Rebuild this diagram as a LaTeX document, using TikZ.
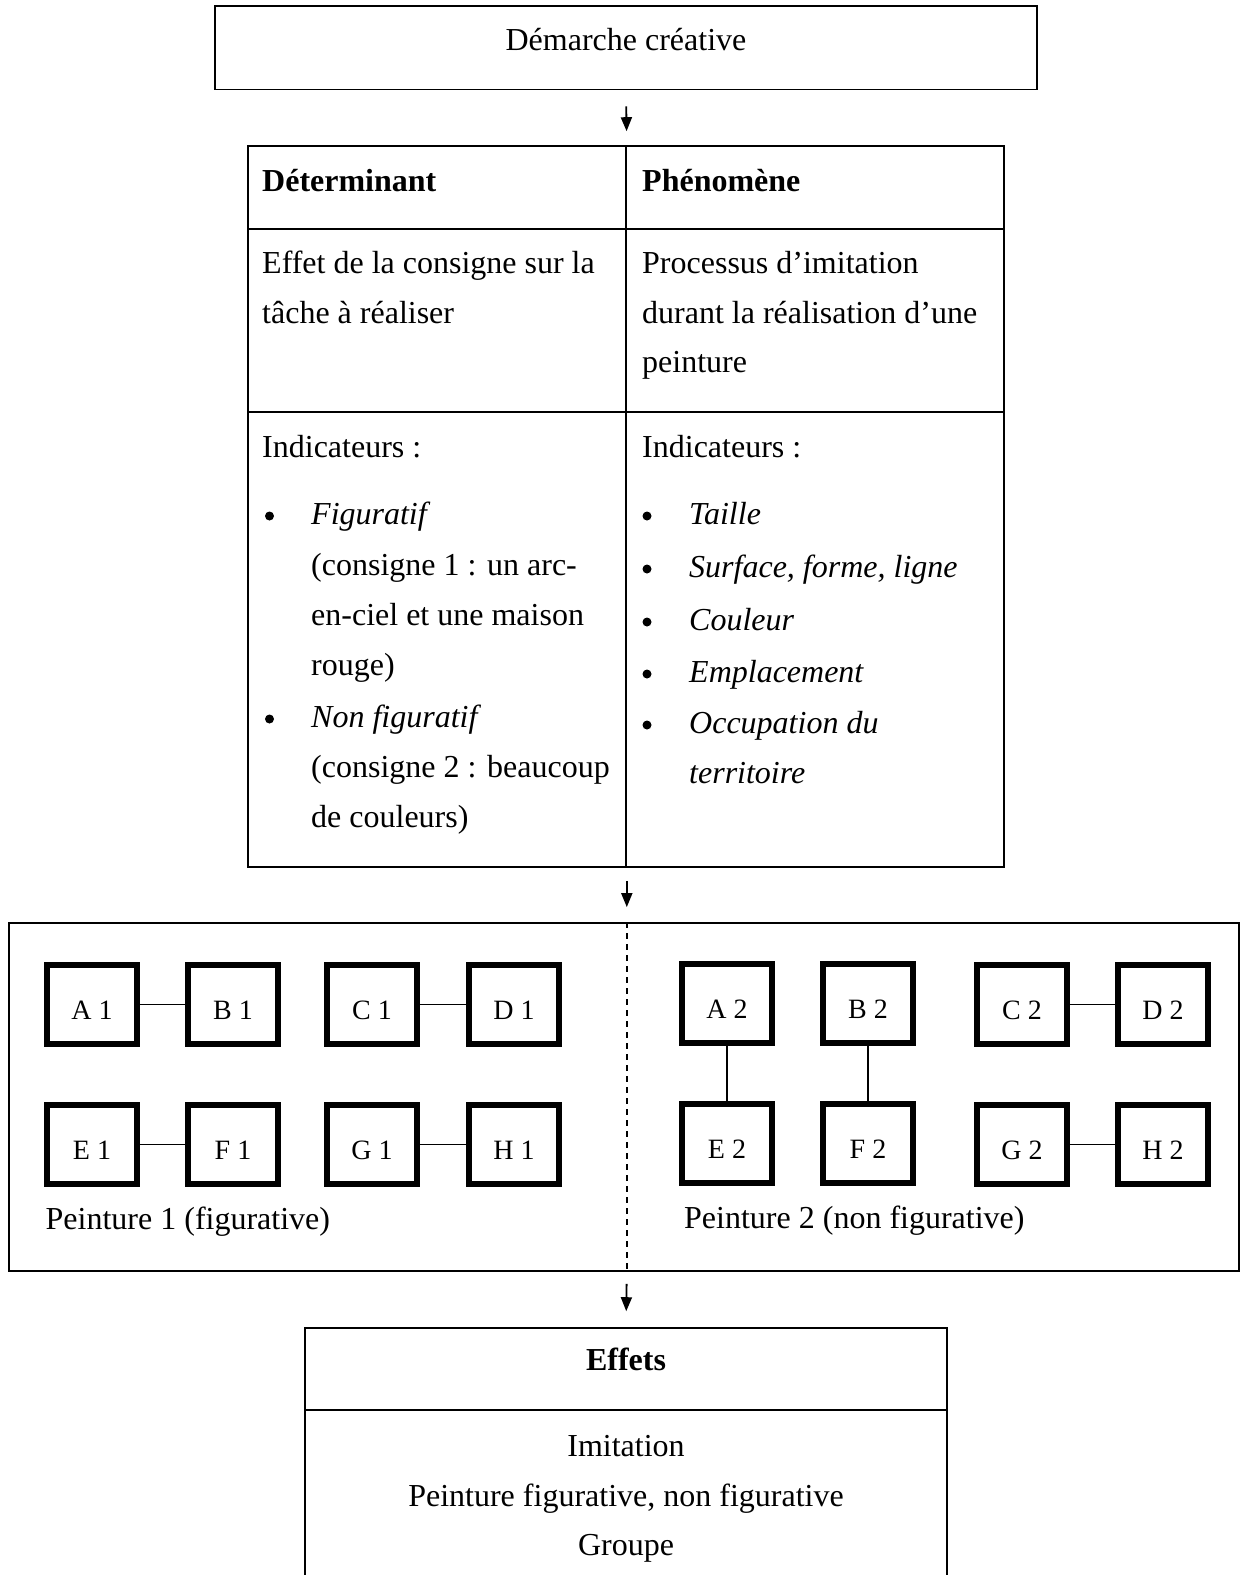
\documentclass[tikz,border=0pt]{standalone}
\usepackage{fontspec}
\setmainfont{Liberation Serif}
\usetikzlibrary{arrows.meta}
\begin{document}
\begin{tikzpicture}[x=1pt,y=-1pt,
  frame/.style={draw, line width=1.6pt, inner sep=0pt},
  txt/.style={anchor=base west, inner sep=0pt, font=\fontsize{32}{38}\selectfont},
  ctxt/.style={anchor=base, inner sep=0pt, font=\fontsize{32}{38}\selectfont},
  itxt/.style={txt, font=\fontsize{32}{38}\selectfont\itshape},
  btxt/.style={txt, font=\fontsize{32}{38}\selectfont\bfseries},
  bul/.style={circle, fill, inner sep=0pt, minimum size=9pt},
  sq/.style={draw, line width=6pt, minimum width=90pt, minimum height=79pt, inner sep=0pt,
    font=\fontsize{28}{30}\selectfont, text height=30pt, text depth=0pt},
  link/.style={line width=1.3pt},
  arr/.style={line width=1.8pt, -{Triangle[length=14pt,width=11pt]}}
]
\useasboundingbox (0,0) rectangle (1242,1575);

% top box
\node[frame, minimum width=821.6pt, minimum height=83.5pt] (top) at (626,47.75) {};
\node[ctxt] (toptxt) at (626,50) {Démarche créative};

% table
\node[frame, minimum width=378pt, minimum height=83pt] (c11) at (437,187.5) {};
\node[frame, minimum width=378pt, minimum height=83pt] (c12) at (815,187.5) {};
\node[frame, minimum width=378pt, minimum height=183pt] (c21) at (437,320.5) {};
\node[frame, minimum width=378pt, minimum height=183pt] (c22) at (815,320.5) {};
\node[frame, minimum width=378pt, minimum height=455pt] (c31) at (437,639.5) {};
\node[frame, minimum width=378pt, minimum height=455pt] (c32) at (815,639.5) {};

\node[btxt] (h1) at (262,191) {Déterminant};
\node[btxt] (h2) at (642,191) {Phénomène};

\node[txt] (l1) at (262,273) {Effet de la consigne sur la};
\node[txt] (l2) at (262,323) {tâche à réaliser};
\node[txt] (r1) at (642,273) {Processus d’imitation};
\node[txt] (r2) at (642,323) {durant la réalisation d’une};
\node[txt] (r3) at (642,372) {peinture};

\node[txt] (li) at (262,457) {Indicateurs :};
\node[bul] (lb1) at (269.5,516) {};
\node[itxt] (lt1) at (311,524) {Figuratif};
\node[txt] (lt2) at (311,575) {(consigne 1 : un arc-};
\node[txt] (lt3) at (311,625) {en-ciel et une maison};
\node[txt] (lt4) at (311,675) {rouge)};
\node[bul] (lb2) at (269.5,719) {};
\node[itxt] (lt5) at (311,727) {Non figuratif};
\node[txt] (lt6) at (311,777) {(consigne 2 : beaucoup};
\node[txt] (lt7) at (311,827) {de couleurs)};

\node[txt] (ri) at (642,457) {Indicateurs :};
\node[bul] (rb1) at (647,516) {};
\node[itxt] (rt1) at (689,524) {Taille};
\node[bul] (rb2) at (647,569) {};
\node[itxt] (rt2) at (689,577) {Surface, forme, ligne};
\node[bul] (rb3) at (647,622) {};
\node[itxt] (rt3) at (689,630) {Couleur};
\node[bul] (rb4) at (647,674) {};
\node[itxt] (rt4) at (689,682) {Emplacement};
\node[bul] (rb5) at (647,725) {};
\node[itxt] (rt5) at (689,733) {Occupation du};
\node[itxt] (rt6) at (689,783) {territoire};

% big box
\node[draw, line width=1.8pt, minimum width=1230pt, minimum height=348pt, inner sep=0pt] (big) at (624,1097) {};
\draw[line width=1.5pt, dash pattern=on 6pt off 5pt] (c31.south east |- big.north) -- (c31.south east |- big.south);

\node[sq] (A1) at (92,1004.5) {A 1};
\node[sq] (B1) at (233,1004.5) {B 1};
\node[sq] (C1) at (372,1004.5) {C 1};
\node[sq] (D1) at (514,1004.5) {D 1};
\node[sq] (E1) at (92,1144.5) {E 1};
\node[sq] (F1) at (233,1144.5) {F 1};
\node[sq] (G1) at (372,1144.5) {G 1};
\node[sq] (H1) at (514,1144.5) {H 1};

\node[sq] (A2) at (727,1003.5) {A 2};
\node[sq] (B2) at (868,1003.5) {B 2};
\node[sq] (C2) at (1022,1004.5) {C 2};
\node[sq] (D2) at (1163,1004.5) {D 2};
\node[sq] (E2) at (727,1143.5) {E 2};
\node[sq] (F2) at (868,1143.5) {F 2};
\node[sq] (G2) at (1022,1144.5) {G 2};
\node[sq] (H2) at (1163,1144.5) {H 2};

\draw[link] (A1) -- (B1);
\draw[link] (C1) -- (D1);
\draw[link] (E1) -- (F1);
\draw[link] (G1) -- (H1);
\draw[link] (A2) -- (E2);
\draw[link] (B2) -- (F2);
\draw[link] (C2) -- (D2);
\draw[link] (G2) -- (H2);

\node[txt] (p1) at (45.5,1229) {Peinture 1 (figurative)};
\node[txt] (p2) at (684,1228) {Peinture 2 (non figurative)};

% bottom table
\node[frame, minimum width=642pt, minimum height=82pt] (eff) at (626,1369) {};
\node[inner sep=0pt, minimum width=642pt, minimum height=165pt] (effbody) at (626,1492.5) {};
\draw[line width=1.6pt] (effbody.south west) -- (effbody.north west) -- (effbody.north east) -- (effbody.south east);
\node[ctxt, font=\fontsize{32}{38}\selectfont\bfseries] (efft) at (626,1370) {Effets};
\node[ctxt] (e1) at (626,1456) {Imitation};
\node[ctxt] (e2) at (626,1506) {Peinture figurative, non figurative};
\node[ctxt] (e3) at (626,1555) {Groupe};

% arrows
\draw[arr, shorten <=16pt, shorten >=14pt] (top.south) -- (c11.north east);
\draw[arr, shorten <=13pt, shorten >=15pt] (c31.south east) -- (c31.south east |- big.north);
\draw[arr, shorten <=12pt, shorten >=16pt] (c31.south east |- big.south) -- (eff.north);
\end{tikzpicture}
\end{document}
